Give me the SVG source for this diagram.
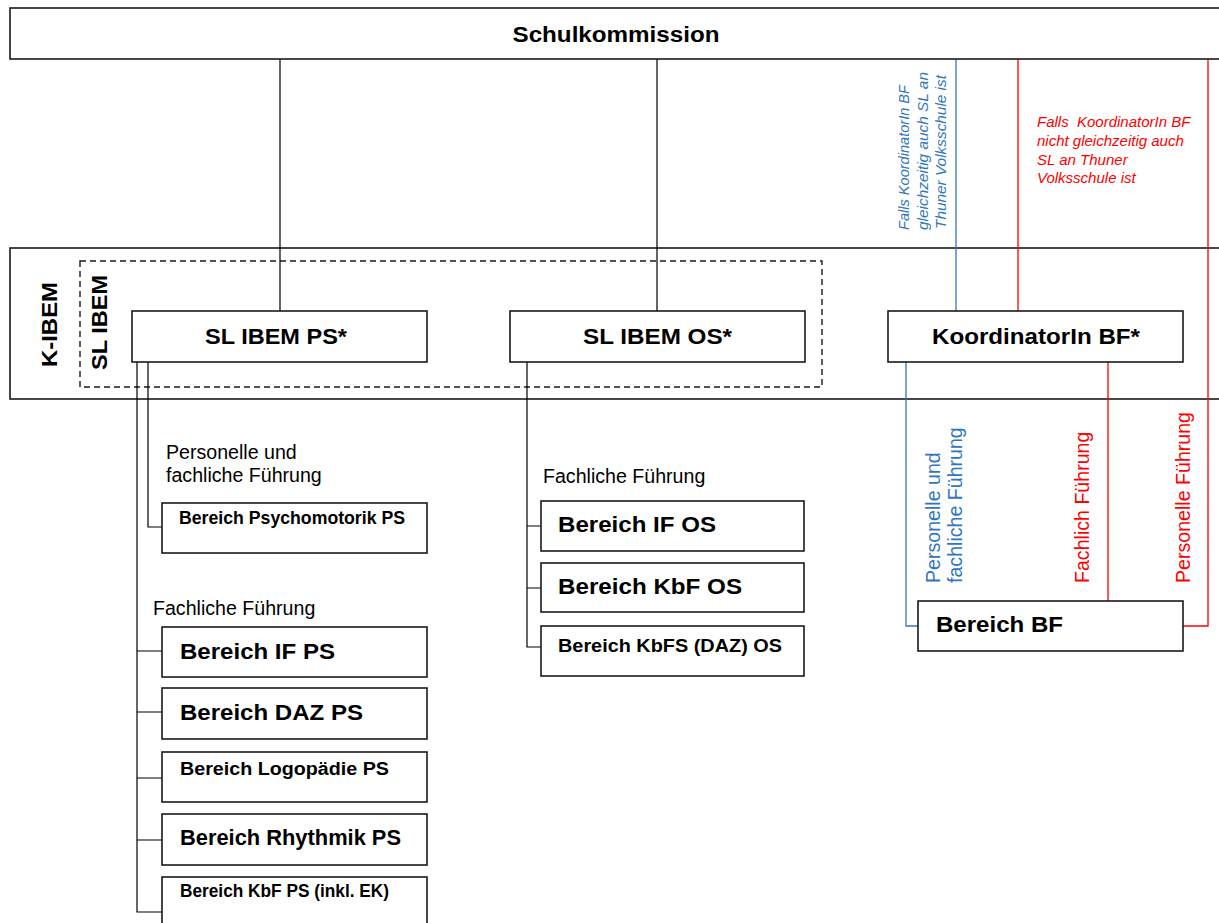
<svg xmlns="http://www.w3.org/2000/svg" width="1219" height="923" viewBox="0 0 1219 923">
<style>
.box{fill:#fff;stroke:#1a1a1a;stroke-width:1.6}
.frame{fill:none;stroke:#1a1a1a;stroke-width:1.6}
.dash{fill:none;stroke:#1a1a1a;stroke-width:1.4;stroke-dasharray:6 4}
.ln{fill:none;stroke:#000;stroke-width:1.2}
.lb{fill:none;stroke:#2f76c0;stroke-width:1.3}
.lr{fill:none;stroke:#ff0000;stroke-width:1.3}
text{font-family:"Liberation Sans",Arial,sans-serif;fill:#000}
.big{font-size:22px;font-weight:bold}
.sm{font-size:17.5px;font-weight:bold}
.reg{font-size:19.6px}
.c{text-anchor:middle}
.nb{font-size:14.5px;font-style:italic;fill:#2f76c0}
.nr{font-size:15px;font-style:italic;fill:#ff0000}
.rb{font-size:19.6px;fill:#2f76c0}
.rr{font-size:19.6px;fill:#ff0000}
</style>
<rect width="1219" height="923" fill="#fff"/>
<g id="frame-kibem">
<rect class="frame" x="10" y="248" width="1220" height="151"/>
<rect class="dash" x="80" y="261" width="742" height="126"/>
<text class="big c" transform="rotate(-90 57 324.5)" x="57" y="324.5" textLength="85" lengthAdjust="spacingAndGlyphs">K-IBEM</text>
<text class="big c" transform="rotate(-90 107 322.5)" x="107" y="322.5" textLength="95" lengthAdjust="spacingAndGlyphs">SL IBEM</text>
</g>
<g id="connectors">
<path class="ln" d="M280 59V311M657 59V311"/>
<path class="lb" d="M956 59V311"/>
<path class="lr" d="M1018 59V311M1208 59V626H1183"/>
<path class="ln" d="M148 362V527H162"/>
<path class="ln" d="M137 362V912H162M137 651H162M137 712H162M137 778H162M137 840H162"/>
<path class="ln" d="M527 362V647H541M527 526H541M527 588H541"/>
<path class="lb" d="M906 362V626H918"/>
<path class="lr" d="M1108 362V601"/>
</g>
<g id="schulkommission">
<rect class="box" x="10" y="8" width="1220" height="51"/>
<text class="big c" x="616" y="42" textLength="207" lengthAdjust="spacingAndGlyphs">Schulkommission</text>
</g>
<g id="note-blue">
<text class="nb" transform="rotate(-90 909 230)" x="909" y="230" textLength="145" lengthAdjust="spacingAndGlyphs">Falls KoordinatorIn BF</text>
<text class="nb" transform="rotate(-90 927.5 230)" x="927.5" y="230" textLength="158" lengthAdjust="spacingAndGlyphs">gleichzeitig auch SL an</text>
<text class="nb" transform="rotate(-90 945.5 229)" x="945.5" y="229" textLength="154" lengthAdjust="spacingAndGlyphs">Thuner Volksschule ist</text>
</g>
<g id="note-red">
<text class="nr" x="1037" y="127" xml:space="preserve">Falls  KoordinatorIn BF</text>
<text class="nr" x="1037" y="146">nicht gleichzeitig auch</text>
<text class="nr" x="1037" y="165">SL an Thuner</text>
<text class="nr" x="1037" y="183">Volksschule ist</text>
</g>
<g id="sl-ibem-ps">
<rect class="box" x="132" y="311" width="295" height="51"/>
<text class="big c" x="276" y="344" textLength="142" lengthAdjust="spacingAndGlyphs">SL IBEM PS*</text>
</g>
<g id="sl-ibem-os">
<rect class="box" x="510" y="311" width="295" height="51"/>
<text class="big c" x="657.5" y="344" textLength="149" lengthAdjust="spacingAndGlyphs">SL IBEM OS*</text>
</g>
<g id="koordinatorin-bf">
<rect class="box" x="888" y="311" width="295" height="51"/>
<text class="big c" x="1036" y="344" textLength="208" lengthAdjust="spacingAndGlyphs">KoordinatorIn BF*</text>
</g>
<g id="label-ps-personell">
<text class="reg" x="166" y="459">Personelle und</text>
<text class="reg" x="166" y="482">fachliche Führung</text>
</g>
<g id="bereich-psychomotorik-ps">
<rect class="box" x="162" y="503" width="265" height="50"/>
<text class="sm" x="179" y="524" textLength="226" lengthAdjust="spacingAndGlyphs">Bereich Psychomotorik PS</text>
</g>
<g id="label-ps-fachlich">
<text class="reg" x="153" y="615">Fachliche Führung</text>
</g>
<g id="bereich-if-ps">
<rect class="box" x="162" y="627" width="265" height="50"/>
<text class="big" x="180" y="659" textLength="155" lengthAdjust="spacingAndGlyphs">Bereich IF PS</text>
</g>
<g id="bereich-daz-ps">
<rect class="box" x="162" y="688" width="265" height="51"/>
<text class="big" x="180" y="720" textLength="183" lengthAdjust="spacingAndGlyphs">Bereich DAZ PS</text>
</g>
<g id="bereich-logopaedie-ps">
<rect class="box" x="162" y="752" width="265" height="50"/>
<text class="sm" x="180" y="775" textLength="209" lengthAdjust="spacingAndGlyphs">Bereich Logopädie PS</text>
</g>
<g id="bereich-rhythmik-ps">
<rect class="box" x="162" y="814" width="265" height="51"/>
<text class="big" x="180" y="845" textLength="221" lengthAdjust="spacingAndGlyphs">Bereich Rhythmik PS</text>
</g>
<g id="bereich-kbf-ps">
<rect class="box" x="162" y="877" width="265" height="52"/>
<text class="sm" x="180" y="897" textLength="209" lengthAdjust="spacingAndGlyphs">Bereich KbF PS (inkl. EK)</text>
</g>
<g id="label-os-fachlich">
<text class="reg" x="543" y="483">Fachliche Führung</text>
</g>
<g id="bereich-if-os">
<rect class="box" x="541" y="501" width="263" height="50"/>
<text class="big" x="558" y="532" textLength="158" lengthAdjust="spacingAndGlyphs">Bereich IF OS</text>
</g>
<g id="bereich-kbf-os">
<rect class="box" x="541" y="563" width="263" height="49"/>
<text class="big" x="558" y="594" textLength="184" lengthAdjust="spacingAndGlyphs">Bereich KbF OS</text>
</g>
<g id="bereich-kbfs-daz-os">
<rect class="box" x="541" y="626" width="263" height="50"/>
<text class="sm" x="558" y="652" textLength="224" lengthAdjust="spacingAndGlyphs">Bereich KbFS (DAZ) OS</text>
</g>
<g id="labels-bf">
<text class="rb" transform="rotate(-90 940 583)" x="940" y="583">Personelle und</text>
<text class="rb" transform="rotate(-90 962 583)" x="962" y="583">fachliche Führung</text>
<text class="rr" transform="rotate(-90 1089 583)" x="1089" y="583">Fachlich Führung</text>
<text class="rr" transform="rotate(-90 1190 583)" x="1190" y="583">Personelle Führung</text>
</g>
<g id="bereich-bf">
<rect class="box" x="918" y="601" width="265" height="50"/>
<text class="big" x="936" y="632" textLength="127" lengthAdjust="spacingAndGlyphs">Bereich BF</text>
</g>
</svg>
